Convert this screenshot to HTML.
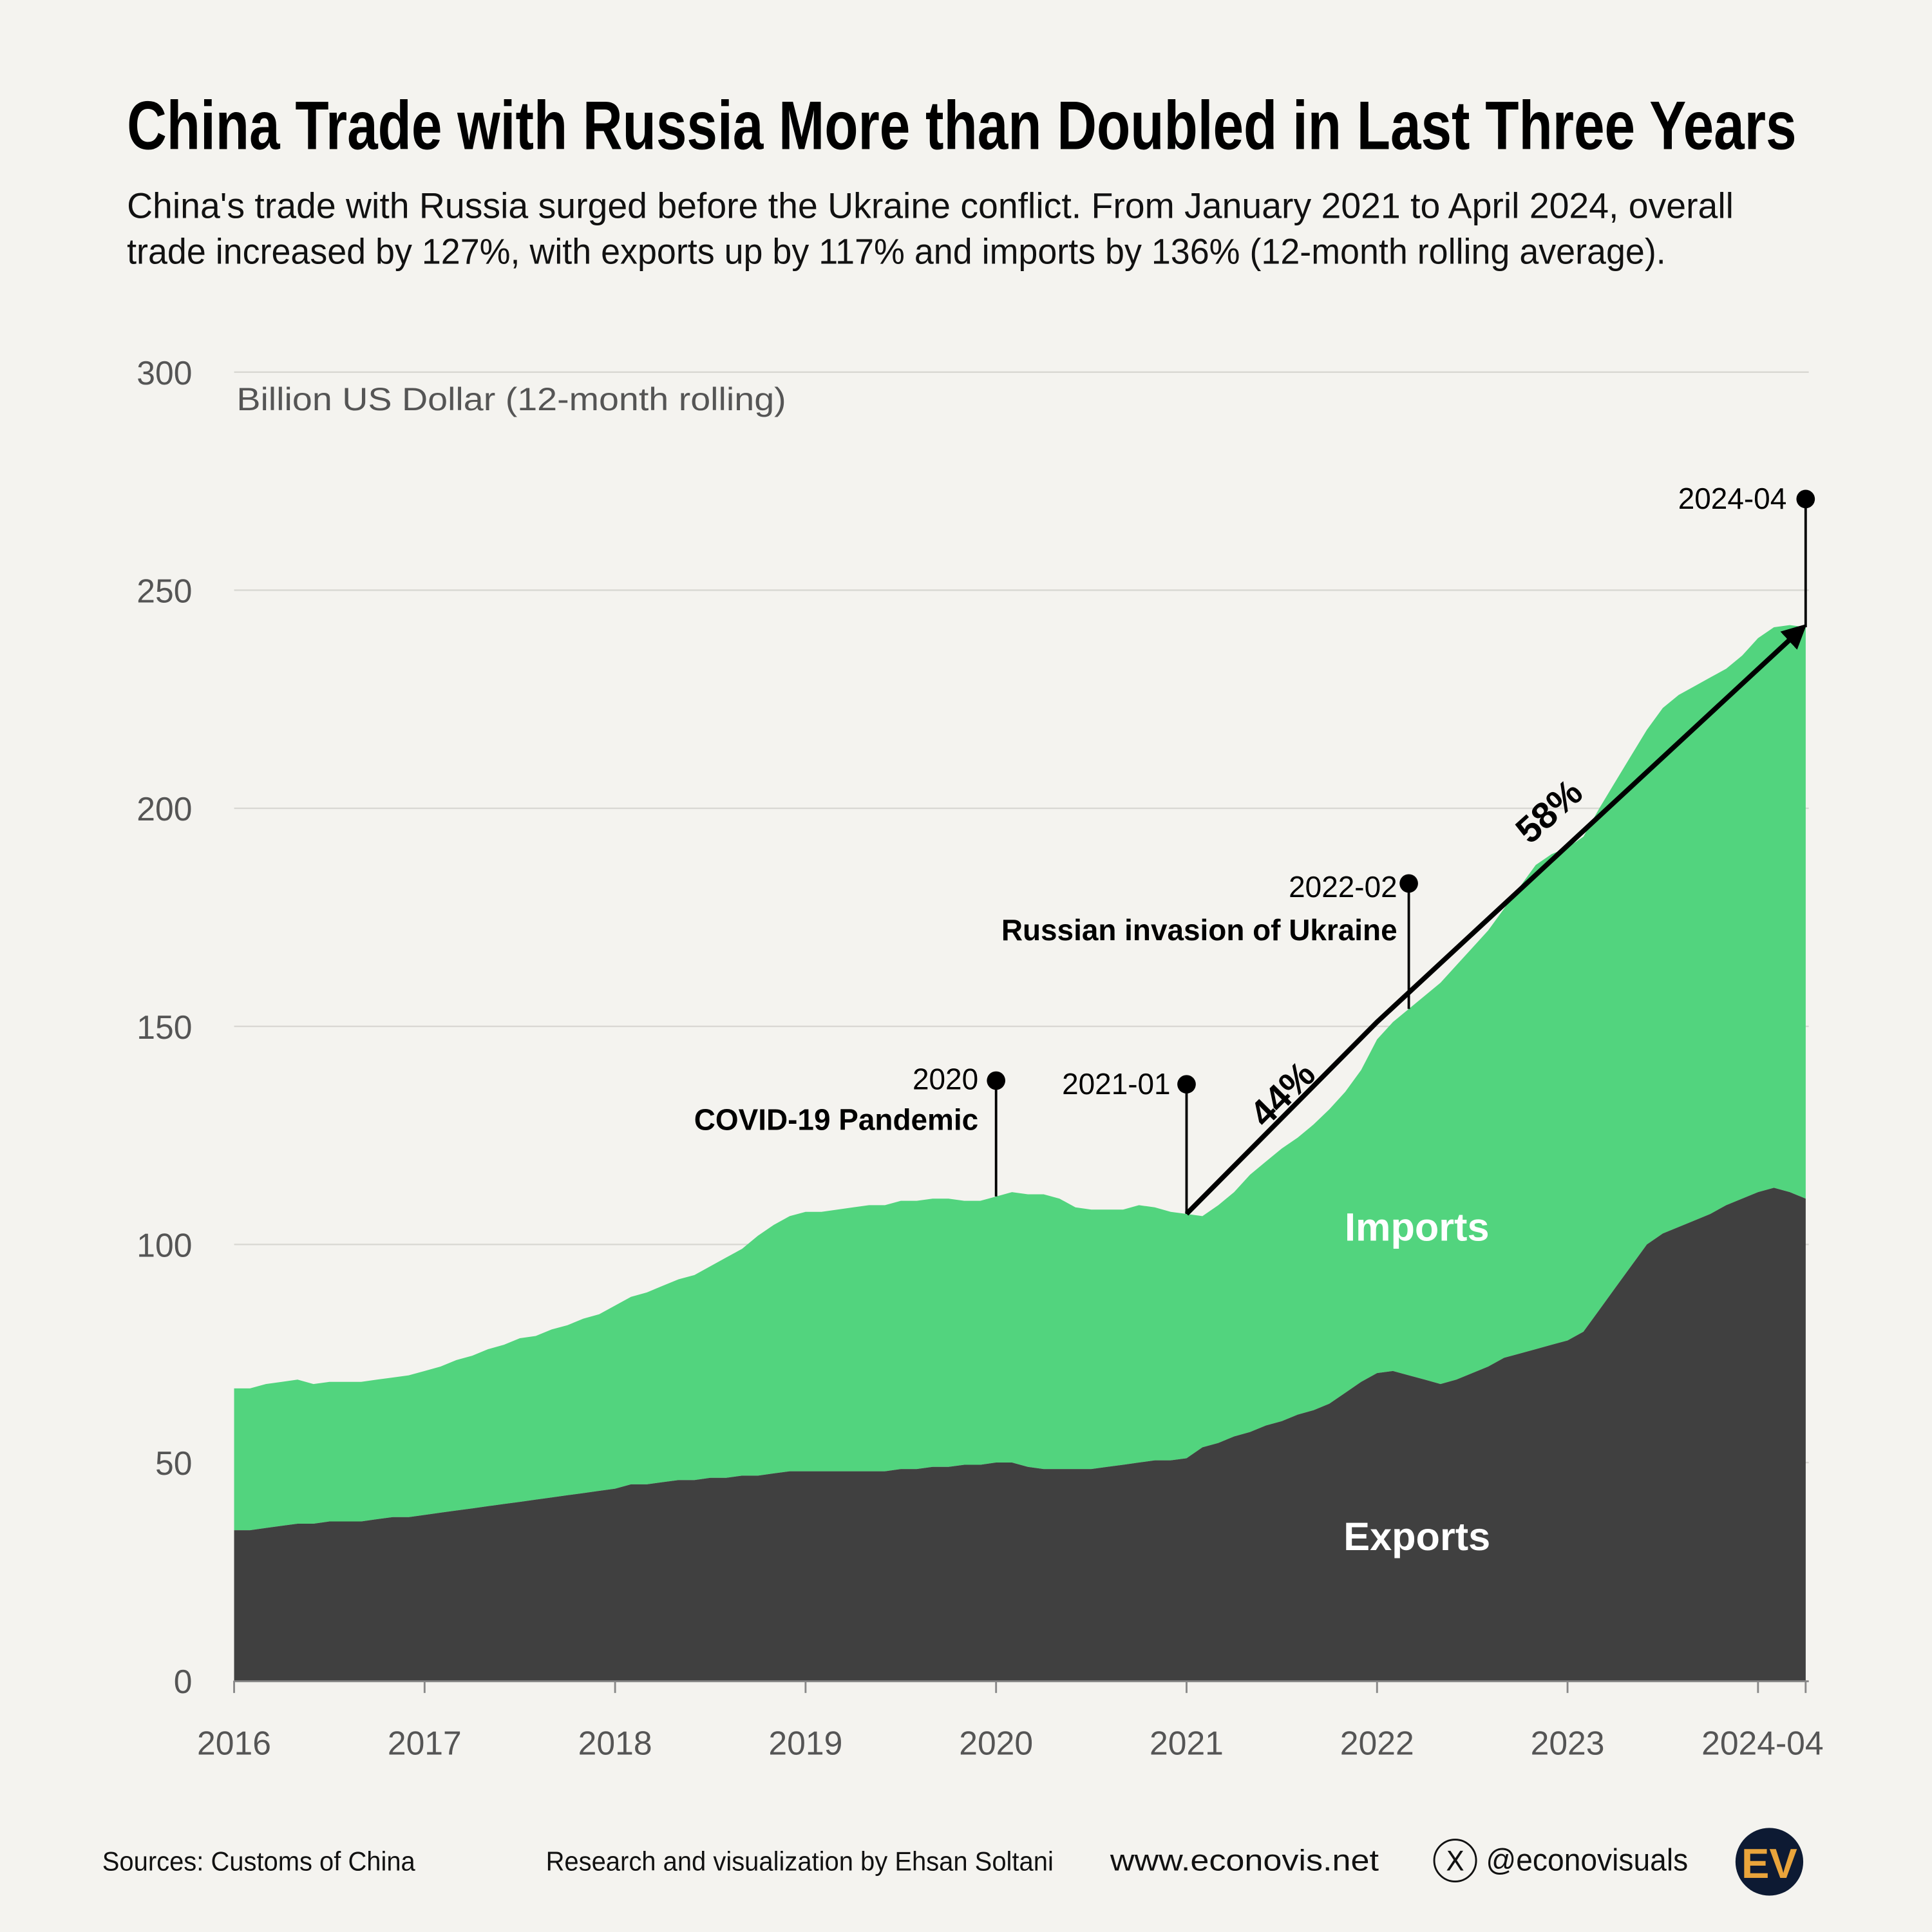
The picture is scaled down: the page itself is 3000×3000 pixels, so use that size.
<!DOCTYPE html>
<html><head><meta charset="utf-8"><style>
html,body{margin:0;padding:0;background:#f4f3ef;}
svg{display:block;}
text{font-family:"Liberation Sans Narrow","Liberation Sans",sans-serif;}
</style></head><body>
<svg id="chart" width="3000" height="3000" viewBox="0 0 1568 1568" xmlns="http://www.w3.org/2000/svg">
<rect width="1568" height="1568" fill="#f4f3ef"/>
<text x="103" y="121" font-size="56" font-weight="bold" textLength="1355" lengthAdjust="spacingAndGlyphs" fill="#000">China Trade with Russia More than Doubled in Last Three Years</text>
<text x="103" y="177" font-size="29" textLength="1304" lengthAdjust="spacingAndGlyphs" fill="#111">China's trade with Russia surged before the Ukraine conflict. From January 2021 to April 2024, overall</text>
<text x="103" y="214" font-size="29" textLength="1249" lengthAdjust="spacingAndGlyphs" fill="#111">trade increased by 127%, with exports up by 117% and imports by 136% (12-month rolling average).</text>
<text x="192" y="333" font-size="26" textLength="446" lengthAdjust="spacingAndGlyphs" fill="#555">Billion US Dollar (12-month rolling)</text>
<g id="grid"></g>
<g id="areas"></g>
<g id="annot"></g>
<g id="xaxis"></g>
<text x="83" y="1518" font-size="22" textLength="254" lengthAdjust="spacingAndGlyphs" fill="#111">Sources: Customs of China</text>
<text x="443" y="1518" font-size="22" textLength="412" lengthAdjust="spacingAndGlyphs" fill="#111">Research and visualization by Ehsan Soltani</text>
<text x="901" y="1518" font-size="24" textLength="218" lengthAdjust="spacingAndGlyphs" fill="#111" style="font-family:'Liberation Sans',sans-serif">www.econovis.net</text>
<g><circle cx="1181" cy="1510" r="17" fill="none" stroke="#111" stroke-width="1.5"/><text x="1181" y="1518" font-size="22" text-anchor="middle" fill="#111" style="font-family:'DejaVu Sans',sans-serif">X</text></g>
<text x="1206" y="1518" font-size="25" textLength="164" lengthAdjust="spacingAndGlyphs" fill="#111">@econovisuals</text>
<g><circle cx="1436" cy="1511" r="27.5" fill="#0d1a33"/><text x="1436" y="1524" font-size="34" font-weight="bold" text-anchor="middle" fill="#e9a43b">EV</text></g>
</svg>
<script>
const total=[67,67,68,68.5,69,68,68.5,68.5,68.5,69,69.5,70,
71,72,73.5,74.5,76,77,78.5,79,80.5,81.5,83,84,
86,88,89,90.5,92,93,95,97,99,102,104.5,106.5,
107.5,107.5,108,108.5,109,109,110,110,110.5,110.5,110,110,
111,112,111.5,111.5,110.5,108.5,108,108,108,109,108.5,107.5,
107,106.5,109,112,116,119,122,124.5,127.5,131,135,140,
147,151,154,157,160,164,168,172,177,182,187,189.5,
191,193.5,200,206,212,218,223,226,228,230,232,235,
239,241.5,242,241.5];
const exportsV=[34.5,34.5,35,35.5,36,36,36.5,36.5,36.5,37,37.5,37.5,
38,38.5,39,39.5,40,40.5,41,41.5,42,42.5,43,43.5,
44,45,45,45.5,46,46,46.5,46.5,47,47,47.5,48,
48,48,48,48,48,48,48.5,48.5,49,49,49.5,49.5,
50,50,49,48.5,48.5,48.5,48.5,49,49.5,50,50.5,50.5,
51,53.5,54.5,56,57,58.5,59.5,61,62,63.5,66,68.5,
70.5,71,70,69,68,69,70.5,72,74,75,76,77,
78,80,85,90,95,100,102.5,104,105.5,107,109,110.5,
112,113,112,110.5];
const yTicks=[0,50,100,150,200,250,300];
const xTickYears=[2016,2017,2018,2019,2020,2021,2022,2023,2024];
const xTickLabels=["2016","2017","2018","2019","2020","2021","2022","2023","2024-04"];
const NS="http://www.w3.org/2000/svg";
const X=m=>190+(m/12)*154.6;
const Y=v=>1364-v*(1062/300);
function el(tag,attrs,parent,txt){const e=document.createElementNS(NS,tag);for(const k in attrs)e.setAttribute(k,attrs[k]);if(txt!==undefined)e.textContent=txt;parent.appendChild(e);return e;}
const grid=document.getElementById('grid');
yTicks.forEach(v=>{
  if(v>0){const l=el('line',{x1:190,x2:1468,y1:Y(v),y2:Y(v),stroke:'#d8d7d2','stroke-width':1.2},grid);
  
  }
  const t=el('text',{x:156,y:Y(v)+10,'font-size':27,'text-anchor':'end',fill:'#555',style:"font-family:'Liberation Sans',sans-serif"},grid,String(v));
  
  
});
const areas=document.getElementById('areas');
function areaPath(top,bot){let d='';top.forEach((v,i)=>{d+=(i?'L':'M')+X(i).toFixed(1)+','+Y(v).toFixed(1);});
for(let i=top.length-1;i>=0;i--){d+='L'+X(i).toFixed(1)+','+Y(bot?bot[i]:0).toFixed(1);}return d+'Z';}
const imp=el('path',{d:areaPath(total,exportsV),fill:'#52d47e'},areas);


const exp=el('path',{d:areaPath(exportsV,null),fill:'#404040'},areas);


const li=el('text',{x:1150,y:1007,'font-size':32,'font-weight':'bold','text-anchor':'middle',fill:'#fff'},areas,'Imports');


const le=el('text',{x:1150,y:1258,'font-size':32,'font-weight':'bold','text-anchor':'middle',fill:'#fff'},areas,'Exports');


const xa=document.getElementById('xaxis');
const axl=el('line',{x1:190,x2:1468,y1:1364.5,y2:1364.5,stroke:'#888','stroke-width':1.5},xa);


xTickYears.forEach(yr=>{
  const m=(yr-2016)*12;
  const tk=el('line',{x1:X(m),x2:X(m),y1:1364,y2:1374,stroke:'#888','stroke-width':1.5},xa);
  
  
});
const lastTk=el('line',{x1:X(total.length-1),x2:X(total.length-1),y1:1364,y2:1374,stroke:'#888','stroke-width':1.5},xa);


xTickLabels.forEach((lab,i)=>{
  const isLast=i===xTickLabels.length-1;
  const x=isLast?1480:X((xTickYears[i]-2016)*12);
  const t=el('text',{x:x,y:1424,'font-size':27,'text-anchor':isLast?'end':'middle',fill:'#555',style:"font-family:'Liberation Sans',sans-serif"},xa,lab);
  
  
});
const an=document.getElementById('annot');
el('defs',{},an).innerHTML='<marker id="ah" viewBox="0 0 10 10" refX="8" refY="5" markerWidth="5" markerHeight="5" orient="auto"><path d="M0,0L10,5L0,10Z" fill="#000"/></marker>';
function marker(m,dotY,name){
  const g=el('g',{},an);
  
  
  el('line',{x1:X(m),x2:X(m),y1:dotY,y2:Y(total[m]),stroke:'#000','stroke-width':2},g);
  el('circle',{cx:X(m),cy:dotY,r:7.5,fill:'#000'},g);
  return g;
}
const g1=marker(48,877,'covid-annotation');
el('text',{x:794,y:884,'font-size':24,'text-anchor':'end'},g1,'2020');
el('text',{x:794,y:917,'font-size':24,'font-weight':'bold','text-anchor':'end'},g1,'COVID-19 Pandemic');
const g2=marker(60,880,'2021-01-annotation');
el('text',{x:950,y:888,'font-size':24,'text-anchor':'end'},g2,'2021-01');
const g3=marker(74,717,'invasion-annotation');
el('text',{x:1134,y:728,'font-size':24,'text-anchor':'end'},g3,'2022-02');
el('text',{x:1134,y:763,'font-size':24,'font-weight':'bold','text-anchor':'end'},g3,'Russian invasion of Ukraine');
const g4=marker(99,405,'latest-annotation');
el('text',{x:1450,y:413,'font-size':24,'text-anchor':'end'},g4,'2024-04');
const last=total.length-1;
const ar=el('polyline',{points:`${X(60)},${Y(total[60])} ${X(72)},${Y(total[72]+4)} ${X(last)-2},${Y(total[last])}`,fill:'none',stroke:'#000','stroke-width':4,'marker-end':'url(#ah)'},an);


const p1=el('text',{x:0,y:0,'font-size':30,'font-weight':'bold',transform:'translate(1048,895) rotate(-45)','text-anchor':'middle'},an,'44%');


const p2=el('text',{x:0,y:0,'font-size':30,'font-weight':'bold',transform:'translate(1264,666) rotate(-42)','text-anchor':'middle'},an,'58%');


</script>
</body></html>
